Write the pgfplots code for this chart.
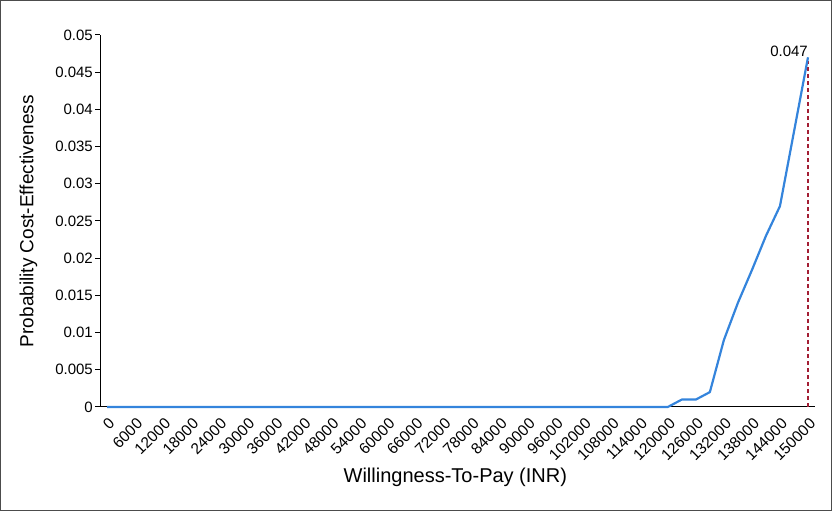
\documentclass[border=0pt]{standalone}
\usepackage{pgfplots}
\pgfplotsset{compat=1.18}
\usepackage{fontspec}
\setmainfont{Liberation Sans}
\definecolor{cebblue}{RGB}{52,132,220}
\definecolor{wtpred}{RGB}{163,30,52}
\begin{document}
\begin{tikzpicture}
\useasboundingbox (0pt,0pt) rectangle (832pt,511pt);
\draw[black!70,line width=1.2pt] (0.6pt,0.6pt) rectangle (831.4pt,510.4pt);
\begin{axis}[
  at={(100pt,104pt)}, anchor=south west,
  scale only axis, width=715pt, height=372pt,
  xmin=-1500, xmax=151500, ymin=0, ymax=0.05,
  axis x line=bottom, axis y line=left,
  axis line style={-, line width=1pt, black},
  scaled y ticks=false, scaled x ticks=false,
  xtick={0,6000,...,150000},
  xticklabels={0,6000,12000,18000,24000,30000,36000,42000,48000,54000,60000,66000,72000,78000,84000,90000,96000,102000,108000,114000,120000,126000,132000,138000,144000,150000},
  ytick={0,0.005,...,0.0501},
  yticklabels={0,0.005,0.01,0.015,0.02,0.025,0.03,0.035,0.04,0.045,0.05},
  x tick style={draw=none},
  y tick style={black, line width=1pt},
  tick align=outside, major tick length=5pt,
  xticklabel style={rotate=45, anchor=north east, font=\fontsize{15.5}{17}\selectfont, inner sep=1pt, xshift=-2pt, yshift=-3pt},
  yticklabel style={font=\fontsize{15}{17}\selectfont, inner sep=2pt},
  xlabel={Willingness-To-Pay (INR)},
  ylabel={Probability Cost-Effectiveness},
  xlabel style={at={(axis description cs:0.497,-0.188)}, anchor=center, font=\fontsize{20}{22}\selectfont},
  ylabel style={at={(axis description cs:-0.1,0.5)}, anchor=center, rotate=0, font=\fontsize{19}{22}\selectfont},
  clip=false,
]
\addplot[wtpred, line width=2.5pt, dash pattern=on 4pt off 3pt] coordinates {(150000,0) (150000,0.0465)};
\addplot[cebblue, line width=2.2pt, line join=round] coordinates {
(0,0) (3000,0) (6000,0) (9000,0) (12000,0) (15000,0) (18000,0) (21000,0) (24000,0) (27000,0)
(30000,0) (33000,0) (36000,0) (39000,0) (42000,0) (45000,0) (48000,0) (51000,0) (54000,0) (57000,0)
(60000,0) (63000,0) (66000,0) (69000,0) (72000,0) (75000,0) (78000,0) (81000,0) (84000,0) (87000,0)
(90000,0) (93000,0) (96000,0) (99000,0) (102000,0) (105000,0) (108000,0) (111000,0) (114000,0) (117000,0)
(120000,0) (123000,0.001) (126000,0.001) (129000,0.002) (132000,0.009) (135000,0.014) (138000,0.0184)
(141000,0.023) (144000,0.027) (147000,0.037) (150000,0.047)
};
\node[anchor=south east, inner sep=0pt, font=\fontsize{15}{17}\selectfont] at (axis cs:150000,0.047) {0.047};
\end{axis}
\end{tikzpicture}
\end{document}
